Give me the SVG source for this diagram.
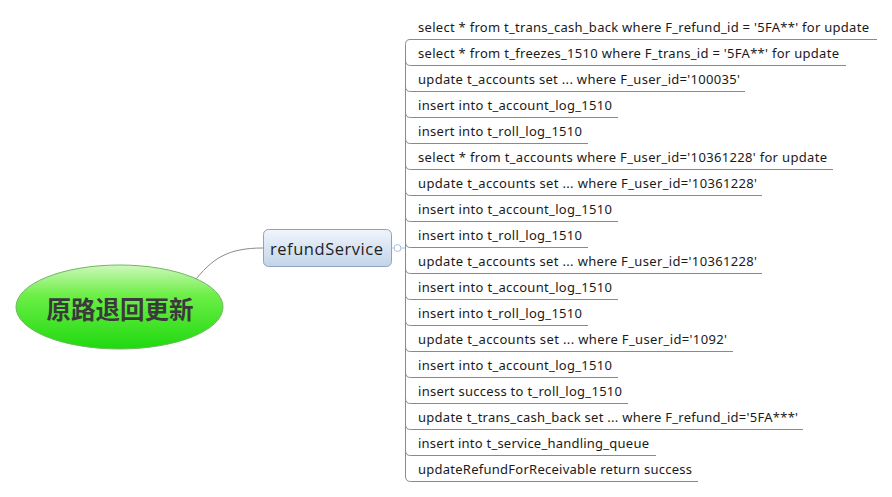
<svg xmlns="http://www.w3.org/2000/svg" width="892" height="497" viewBox="0 0 892 497">
<defs>
<linearGradient id="gRoot" x1="0" y1="0" x2="0" y2="1">
<stop offset="0" stop-color="#cff7bd"/>
<stop offset="0.35" stop-color="#6eef48"/>
<stop offset="1" stop-color="#1fd90f"/>
</linearGradient>
<linearGradient id="gSvc" x1="0" y1="0" x2="0" y2="1">
<stop offset="0" stop-color="#f0f5fb"/>
<stop offset="1" stop-color="#c2d4ea"/>
</linearGradient>
<style>
.leaf{font-family:"Noto Sans","Open Sans","DejaVu Sans",sans-serif;font-size:13px;fill:#1a1a1a}
.ul{fill:none;stroke:#8a8a8a;stroke-width:1}
.conn{fill:none;stroke:#8a8a8a;stroke-width:1}
</style>
</defs>
<rect width="892" height="497" fill="#ffffff"/>
<g id="connectors">
<path class="conn" d="M193,283 C212,258 228,248 263,248"/>
<path d="M392,248 H405" fill="none" stroke="#a9bedb" stroke-width="1"/>
<path class="ul" d="M410,39.5 Q405.5,39.5 405.5,44.5 V476 Q405.5,481.5 410.5,481.5 H698"/>
</g>
<g id="root">
<ellipse cx="119.5" cy="307" rx="103.5" ry="42" fill="url(#gRoot)" stroke="#70b860" stroke-width="1"/>
<text x="120" y="319" text-anchor="middle" font-family="'Noto Sans CJK SC',sans-serif" font-weight="bold" font-size="24.5" fill="#3a3a3a">原路退回更新</text>
</g>
<g id="refundService">
<rect x="263.5" y="229.5" width="128" height="37" rx="5" fill="url(#gSvc)" stroke="#8ea3bf" stroke-width="1"/>
<text x="270" y="255" font-family="'Open Sans','Noto Sans',sans-serif" font-size="16.5" fill="#1e1e1e" textLength="113">refundService</text>
<circle cx="397.5" cy="248" r="3.5" fill="#ffffff" stroke="#a9bedb" stroke-width="1"/>
</g>
<g id="n1"><text class="leaf" x="418" y="31.5" textLength="451">select * from t_trans_cash_back where F_refund_id = '5FA**' for update</text><path class="ul" d="M410,39.5 H877"/></g>
<g id="n2"><text class="leaf" x="418" y="57.5" textLength="421">select * from t_freezes_1510 where F_trans_id = '5FA**' for update</text><path class="ul" d="M405.5,60.5 Q405.5,65.5 410.5,65.5 H846"/></g>
<g id="n3"><text class="leaf" x="418" y="83.5" textLength="322">update t_accounts set ... where F_user_id='100035'</text><path class="ul" d="M405.5,86.5 Q405.5,91.5 410.5,91.5 H745"/></g>
<g id="n4"><text class="leaf" x="418" y="109.5" textLength="194">insert into t_account_log_1510</text><path class="ul" d="M405.5,112.5 Q405.5,117.5 410.5,117.5 H618"/></g>
<g id="n5"><text class="leaf" x="418" y="135.5" textLength="164">insert into t_roll_log_1510</text><path class="ul" d="M405.5,138.5 Q405.5,143.5 410.5,143.5 H588"/></g>
<g id="n6"><text class="leaf" x="418" y="161.5" textLength="409">select * from t_accounts where F_user_id='10361228' for update</text><path class="ul" d="M405.5,164.5 Q405.5,169.5 410.5,169.5 H833"/></g>
<g id="n7"><text class="leaf" x="418" y="187.5" textLength="339">update t_accounts set ... where F_user_id='10361228'</text><path class="ul" d="M405.5,190.5 Q405.5,195.5 410.5,195.5 H762"/></g>
<g id="n8"><text class="leaf" x="418" y="213.5" textLength="194">insert into t_account_log_1510</text><path class="ul" d="M405.5,216.5 Q405.5,221.5 410.5,221.5 H618"/></g>
<g id="n9"><text class="leaf" x="418" y="239.5" textLength="164">insert into t_roll_log_1510</text><path class="ul" d="M405.5,242.5 Q405.5,247.5 410.5,247.5 H588"/></g>
<g id="n10"><text class="leaf" x="418" y="265.5" textLength="339">update t_accounts set ... where F_user_id='10361228'</text><path class="ul" d="M405.5,268.5 Q405.5,273.5 410.5,273.5 H762"/></g>
<g id="n11"><text class="leaf" x="418" y="291.5" textLength="194">insert into t_account_log_1510</text><path class="ul" d="M405.5,294.5 Q405.5,299.5 410.5,299.5 H618"/></g>
<g id="n12"><text class="leaf" x="418" y="317.5" textLength="164">insert into t_roll_log_1510</text><path class="ul" d="M405.5,320.5 Q405.5,325.5 410.5,325.5 H588"/></g>
<g id="n13"><text class="leaf" x="418" y="343.5" textLength="309">update t_accounts set ... where F_user_id='1092'</text><path class="ul" d="M405.5,346.5 Q405.5,351.5 410.5,351.5 H733"/></g>
<g id="n14"><text class="leaf" x="418" y="369.5" textLength="194">insert into t_account_log_1510</text><path class="ul" d="M405.5,372.5 Q405.5,377.5 410.5,377.5 H618"/></g>
<g id="n15"><text class="leaf" x="418" y="395.5" textLength="204">insert success to t_roll_log_1510</text><path class="ul" d="M405.5,398.5 Q405.5,403.5 410.5,403.5 H628"/></g>
<g id="n16"><text class="leaf" x="418" y="421.5" textLength="380">update t_trans_cash_back set ... where F_refund_id='5FA***'</text><path class="ul" d="M405.5,424.5 Q405.5,429.5 410.5,429.5 H803"/></g>
<g id="n17"><text class="leaf" x="418" y="447.5" textLength="231">insert into t_service_handling_queue</text><path class="ul" d="M405.5,450.5 Q405.5,455.5 410.5,455.5 H656"/></g>
<g id="n18"><text class="leaf" x="418" y="473.5" textLength="274">updateRefundForReceivable return success</text></g>
</svg>
